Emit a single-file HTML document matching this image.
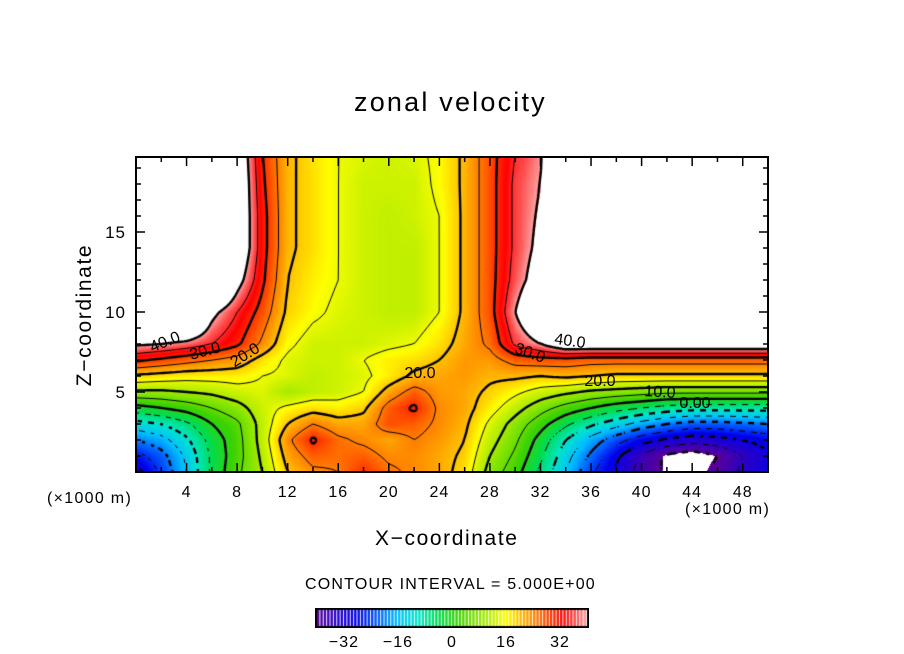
<!DOCTYPE html>
<html><head><meta charset="utf-8"><style>
body{margin:0;background:#fff;width:904px;height:654px;overflow:hidden;position:relative;font-family:"Liberation Sans",sans-serif}
.t{position:absolute;white-space:nowrap;color:#000}
canvas{position:absolute}
</style></head><body>
<div class="t" style="left:354px;top:87px;font-size:27px;letter-spacing:2.2px">zonal velocity</div>
<div class="t" style="left:10px;top:303px;font-size:21px;letter-spacing:1.6px;transform:rotate(-90deg);transform-origin:75px 12px;width:150px;text-align:center">Z−coordinate</div>
<div class="t" style="left:375px;top:527px;font-size:21px;letter-spacing:1.6px">X−coordinate</div>
<div class="t" style="left:47px;top:490px;font-size:16px;letter-spacing:1.3px">(×1000 m)</div>
<div class="t" style="left:685px;top:501px;font-size:16px;letter-spacing:1.3px">(×1000 m)</div>
<div class="t" style="left:305px;top:576px;font-size:16px;letter-spacing:1.2px">CONTOUR INTERVAL = 5.000E+00</div>
<canvas id="field" width="632" height="315" style="left:136px;top:157px"></canvas>
<canvas id="cbar" width="274" height="20" style="left:315px;top:608px"></canvas>
<svg id="ov" width="904" height="654" style="position:absolute;left:0;top:0"></svg>
<script>
const xs=[0,2,4,6,8,10,12,14,16,18,20,22,24,26,28,30,32,34,36,38,40,42,44,46,48,50];
const zs=[0,1,2,3,4,5,6,7,8,10,12,14,16,18,20];
const row0=[-32,-24,-15,-4,4,10,20,24,25,30,26,24,22,18,8,2,-6,-15,-24,-31,-37,-41,-42,-39,-34,-30];
const row1=[-27,-22,-14,-4,3,11,22,27,26,27,24,24,22,19,10,4,-4,-13,-21,-29,-36,-41,-43,-40,-35,-31];
const row2=[-20,-17,-11,-3,3,12,24,31,26,24,22,25,23,20,12,6,-2,-10,-17,-23,-28,-31,-33,-32,-30,-28];
const row3=[-12,-10,-6,0,4,12,20,25,22,22,28,27,24,21,14,8,2,-4,-9,-13,-17,-20,-22,-22,-21,-20];
const row4=[-2,0,2,5,8,13,16,18,17,19,27,31,24,22,17,12,7,3,0,-3,-5,-7,-8,-8,-8,-8];
const row5=[9,9,10,11,13,14,10,12,13,15,22,27,23,22,19,16,13,11,9,8,7,6,6,6,6,6];
const row6=[19,18,17,17,17,15,14,12,13,14,17,21,22,23,21,21,20,21,20,19,19,19,19,19,19,19];
const row7=[31,29,27,25,23,18,14,13,13,15,17,18,20,23,23,27,28,28,27,27,27,27,27,27,27,27];
const row8=[41,40,38,35,31,24,16,13,13,13,14,15,18,22,26,36,40,46,46,46,46,46,46,46,46,46];
const row10=[60,60,60,42,35,28,19,16,14,13,12,12,15,21,28,40,50,60,60,60,60,60,60,60,60,60];
const row12=[60,60,60,60,43,31,20,17,15,13,12,12,15,21,28,37,44,60,60,60,60,60,60,60,60,60];
const row14=[60,60,60,60,48,32,21,18,15,13,12,12,15,21,28,36,42,60,60,60,60,60,60,60,60,60];
const row16=[60,60,60,60,48,32,21,18,15,13,12,13,15,21,28,36,41,60,60,60,60,60,60,60,60,60];
const row18=[60,60,60,60,48,31,21,18,15,13,13,13,16,21,28,36,40,60,60,60,60,60,60,60,60,60];
const row20=[60,60,60,60,47,30,21,18,15,14,13,14,16,21,28,35,39,60,60,60,60,60,60,60,60,60];
const rows=[row0,row1,row2,row3,row4,row5,row6,row7,row8,row10,row12,row14,row16,row18,row20];
const xTicks=[4,8,12,16,20,24,28,32,36,40,44,48];
const zTicks=[5,10,15];
const cbTicks=[-32,-16,0,16,32];

const X0=136,Y0=157,W=632,H=315,XMAX=50,ZMAX=315/16;
const sx=x=>X0+x/XMAX*W, sz=z=>Y0+H-z*16;
const stops=[[-40,[90,0,150]],[-34,[40,0,200]],[-28,[0,0,235]],[-22,[0,90,255]],[-16,[0,190,255]],[-10,[0,230,200]],[-4,[0,220,80]],[2,[60,210,0]],[8,[140,230,0]],[13,[205,242,0]],[16,[255,255,0]],[20,[255,195,0]],[25,[255,125,0]],[30,[255,45,0]],[33,[255,0,0]],[37,[255,80,80]],[40,[255,165,165]]];
function cmap(v){
  if(v>40.3||v<-40.3)return [255,255,255];
  if(v<=stops[0][0])return stops[0][1];
  for(let i=1;i<stops.length;i++){if(v<=stops[i][0]){const a=stops[i-1],b=stops[i],t=(v-a[0])/(b[0]-a[0]);return a[1].map((c,k)=>Math.round(c+(b[1][k]-c)*t));}}
  return stops[stops.length-1][1];
}
function idx(arr,v){for(let i=0;i<arr.length-2;i++){if(v<arr[i+1])return i;}return arr.length-2;}
function val(x,z){
  const i=idx(xs,x),j=idx(zs,z);
  const tx=Math.min(1,Math.max(0,(x-xs[i])/(xs[i+1]-xs[i]))),tz=Math.min(1,Math.max(0,(z-zs[j])/(zs[j+1]-zs[j])));
  const a=rows[j][i],b=rows[j][i+1],c=rows[j+1][i],d=rows[j+1][i+1];
  return (a*(1-tx)+b*tx)*(1-tz)+(c*(1-tx)+d*tx)*tz;
}
const fc=document.getElementById('field'),ctx=fc.getContext('2d');
const img=ctx.createImageData(W,H);
for(let py=0;py<H;py++)for(let px=0;px<W;px++){
  const v=val((px+0.5)/W*XMAX,(H-py-0.5)/16);
  const c=cmap(v),o=(py*W+px)*4;img.data[o]=c[0];img.data[o+1]=c[1];img.data[o+2]=c[2];img.data[o+3]=255;
}
ctx.putImageData(img,0,0);
const S=3,nx=Math.ceil(W/S)+1,ny=Math.ceil(H/S)+1,G=[];
for(let j=0;j<ny;j++){G[j]=[];for(let i=0;i<nx;i++)G[j][i]=val(Math.min(W,i*S)/W*XMAX,(H-Math.min(H,j*S))/16);}
ctx.strokeStyle='#000';
for(let L=-40;L<=40;L+=5){
  ctx.lineWidth=(L%10===0)?2.4:1;
  ctx.beginPath();
  for(let j=0;j<ny-1;j++)for(let i=0;i<nx-1;i++){
    const p=[[i*S,j*S,G[j][i]],[(i+1)*S,j*S,G[j][i+1]],[(i+1)*S,(j+1)*S,G[j+1][i+1]],[i*S,(j+1)*S,G[j+1][i]]];
    const pts=[];
    for(let k=0;k<4;k++){const a=p[k],b=p[(k+1)%4];if((a[2]<L)!==(b[2]<L)){const t=(L-a[2])/(b[2]-a[2]);pts.push([a[0]+(b[0]-a[0])*t,a[1]+(b[1]-a[1])*t]);}}
    if(L<0&&((i+j)%4>1))continue;
    for(let k=0;k+1<pts.length;k+=2){ctx.moveTo(pts[k][0],pts[k][1]);ctx.lineTo(pts[k+1][0],pts[k+1][1]);}
  }
  ctx.stroke();
}
const cb=document.getElementById('cbar'),cc=cb.getContext('2d');
cc.fillStyle='#fff';cc.fillRect(0,0,274,20);
for(let v=-40;v<40;v++){const c=cmap(v+0.5);cc.fillStyle=`rgb(${c[0]},${c[1]},${c[2]})`;cc.fillRect(2+(v+40)*270/80,2,2.4,16);}
cc.strokeStyle='#000';cc.lineWidth=2;cc.strokeRect(1,1,272,18);
const ns='http://www.w3.org/2000/svg',ov=document.getElementById('ov');
function mk(tag,attrs,txt){const e=document.createElementNS(ns,tag);for(const k in attrs)e.setAttribute(k,attrs[k]);if(txt!==undefined)e.textContent=txt;ov.appendChild(e);return e;}
const frame=mk('rect',{x:X0,y:Y0,width:W,height:H,fill:'none',stroke:'#000','stroke-width':2});


for(let x=2;x<XMAX;x+=2){const len=(x%4===0)?9:5;
  const t1=mk('line',{x1:sx(x),x2:sx(x),y1:Y0+H,y2:Y0+H-len,stroke:'#000','stroke-width':1.5});
  
  
  mk('line',{x1:sx(x),x2:sx(x),y1:Y0,y2:Y0+len,stroke:'#000','stroke-width':1.5});}
for(let z=1;z<ZMAX;z+=1){const len=(z%5===0)?9:5;
  const t2=mk('line',{x1:X0,x2:X0+len,y1:sz(z),y2:sz(z),stroke:'#000','stroke-width':1.5});
  
  
  mk('line',{x1:X0+W,x2:X0+W-len,y1:sz(z),y2:sz(z),stroke:'#000','stroke-width':1.5});}
xTicks.forEach(x=>{const e=mk('text',{x:sx(x),y:497,'font-size':16,'text-anchor':'middle','font-family':'Liberation Sans','letter-spacing':1},String(x));
  
  });
zTicks.forEach(z=>{const e=mk('text',{x:126,y:sz(z)+6,'font-size':17,'text-anchor':'end','font-family':'Liberation Sans','letter-spacing':1},String(z));
  
  });
cbTicks.forEach(v=>{const e=mk('text',{x:317+(v+40)*270/80,y:647,'font-size':16,'text-anchor':'middle','font-family':'Liberation Sans','letter-spacing':1},v<0?'−'+(-v):String(v));
  
  });
const labels=[['40.0',165,347,-22],['30.0',205,356,-15],['20.0',245,360,-32],['20.0',420,378,0],['30.0',530,358,20],['40.0',570,346,8],['20.0',600,386,0],['10.0',660,397,3],['0.00',695,408,0]];
labels.forEach(l=>{const e=mk('text',{x:l[1],y:l[2],'font-size':16,'text-anchor':'middle','font-family':'Liberation Sans',transform:`rotate(${l[3]} ${l[1]} ${l[2]-5})`},l[0]);
  
  });
</script>
</body></html>
